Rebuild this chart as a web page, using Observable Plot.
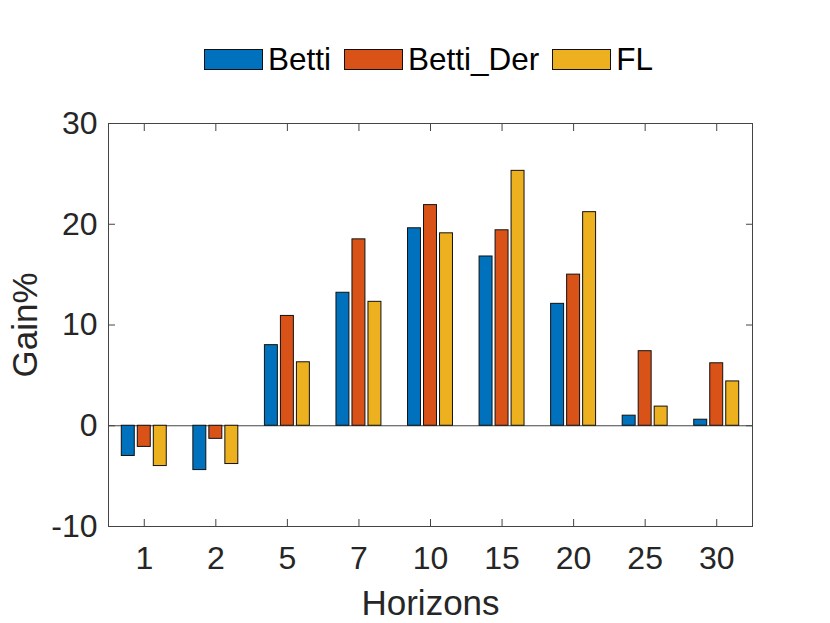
<!DOCTYPE html>
<html>
<head>
<meta charset="utf-8">
<script src="https://cdn.jsdelivr.net/npm/d3@7"></script>
<script src="https://cdn.jsdelivr.net/npm/@observablehq/plot@0.6"></script>
<style>
  body { margin: 0; background: #fff; }
  #wrap { width: 830px; font-family: "Liberation Sans", Arial, sans-serif; }
  #legend { position: relative; height: 90px; }
  #legend .row { position: absolute; top: 39px; left: 0; width: 830px; height: 40px;
    display: flex; justify-content: center; align-items: center; padding-left: 40px; box-sizing: border-box; }
  #legend .sw { width: 57px; height: 19px; border: 1px solid #111; margin-right: 5px; }
  #legend .lb { font-size: 31.5px; color: #000; margin-right: 13px; line-height: 40px; }
  svg { display: block; }
</style>
</head>
<body>
<div id="wrap">
  <div id="legend"><div class="row"></div></div>
  <div id="chart"></div>
</div>
<script>
const horizons = ["1", "2", "5", "7", "10", "15", "20", "25", "30"];
const seriesNames = ["Betti", "Betti_Der", "FL"];
const seriesColors = ["#0072BD", "#D95319", "#EDB120"];
const betti    = [-3.0, -4.4,  8.0, 13.2, 19.6, 16.8, 12.1, 1.0, 0.6];
const bettiDer = [-2.1, -1.3, 10.9, 18.5, 21.9, 19.4, 15.0, 7.4, 6.2];
const fl       = [-4.0, -3.8,  6.3, 12.3, 19.1, 25.3, 21.2, 1.9, 4.4];
const yTicks = [-10, 0, 10, 20, 30];

const seriesValues = [betti, bettiDer, fl];

// legend
const row = document.querySelector("#legend .row");
seriesNames.forEach((name, i) => {
  const sw = document.createElement("div");
  sw.className = "sw";
  sw.style.background = seriesColors[i];
  const lb = document.createElement("div");
  lb.className = "lb";
  lb.textContent = name;
  row.appendChild(sw);
  row.appendChild(lb);
});

const offsets = [-16, 0, 16];
const barMarks = seriesValues.map((vals, i) => {
  const data = horizons.map((h, j) => ({horizon: h, value: vals[j]}));
  return Plot.barY(data, {
    x: "horizon", y: "value",
    fill: seriesColors[i], stroke: "#111", strokeWidth: 1,
    insetLeft: 29.3, insetRight: 29.3, dx: offsets[i]
  });
});

const axisColor = "#444";
const chart = Plot.plot({
  width: 830,
  height: 533,
  marginTop: 33,
  marginBottom: 97,
  marginLeft: 108,
  marginRight: 78,
  style: {fontFamily: "Liberation Sans, Arial, sans-serif", fontSize: "32px", color: "#262626", background: "#fff"},
  x: {type: "band", domain: horizons, padding: 0, round: false},
  y: {domain: [-10, 30]},
  marks: [
    Plot.ruleY([0], {stroke: axisColor, strokeWidth: 1}),
    ...barMarks,
    Plot.frame({stroke: axisColor, strokeWidth: 1}),
    Plot.axisY(yTicks, {anchor: "left", tickSize: -7, tickPadding: 18, tickFormat: d => String(d), stroke: axisColor, label: null}),
    Plot.axisY(yTicks, {anchor: "right", tickSize: -7, tickFormat: () => "", stroke: axisColor, label: null}),
    Plot.axisX({anchor: "bottom", tickSize: -7, tickPadding: 27, stroke: axisColor, label: null}),
    Plot.axisX({anchor: "top", tickSize: -7, tickFormat: () => "", stroke: axisColor, label: null}),
    Plot.text(["Horizons"], {frameAnchor: "bottom", dy: 88, fontSize: 35, fill: "#262626", text: d => d}),
    Plot.text(["Gain%"], {frameAnchor: "left", textAnchor: "middle", dx: -83, rotate: -90, fontSize: 35, fill: "#262626", text: d => d})
  ]
});
document.getElementById("chart").appendChild(chart);
</script>
</body>
</html>
